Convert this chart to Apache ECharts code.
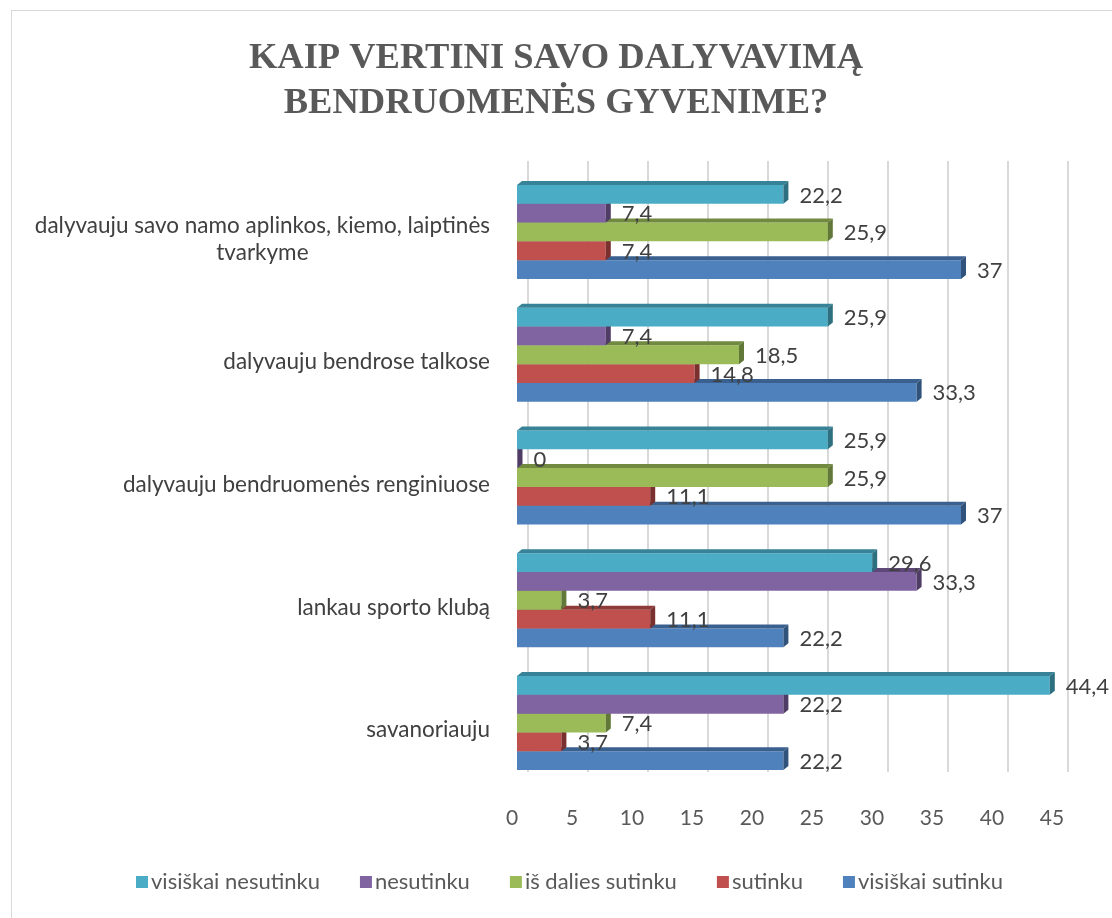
<!DOCTYPE html>
<html>
<head>
<meta charset="utf-8">
<script src="https://cdn.jsdelivr.net/npm/echarts@6/dist/echarts.min.js"></script>
<style>
  html, body { margin: 0; padding: 0; background: #fff; }
  #frame { position: absolute; left: 11px; top: 10px; width: 1120px; height: 930px; border: 1.5px solid #d9d9d9; box-sizing: border-box; }
  #chart { position: absolute; left: 0; top: 0; width: 1112px; height: 918px; }
</style>
</head>
<body>
<div id="frame"></div>
<div id="chart"></div>
<script>
// kategorijos (nuo apačios į viršų)
const categories = [
  'savanoriauju',
  'lankau sporto klubą',
  'dalyvauju bendruomenės renginiuose',
  'dalyvauju bendrose talkose',
  'dalyvauju savo namo aplinkos, kiemo, laiptinės\ntvarkyme',
]
const xTicks = [0, 5, 10, 15, 20, 25, 30, 35, 40, 45]

const visiskaiSutinku = [22.2, 22.2, 37, 33.3, 37]
const sutinku = [3.7, 11.1, 11.1, 14.8, 7.4]
const isDaliesSutinku = [7.4, 3.7, 25.9, 18.5, 25.9]
const nesutinku = [22.2, 33.3, 0, 7.4, 7.4]
const visiskaiNesutinku = [44.4, 29.6, 25.9, 25.9, 22.2]

// piešimo tvarka: apatinis stulpelis pirmas
const seriesDefs = [
  { name: 'visiškai sutinku', data: visiskaiSutinku, front: '#4f81bd', top: '#3a6090', side: '#31527a' },
  { name: 'sutinku', data: sutinku, front: '#c0504d', top: '#8e3a38', side: '#7a302e' },
  { name: 'iš dalies sutinku', data: isDaliesSutinku, front: '#9bbb59', top: '#728a40', side: '#627838' },
  { name: 'nesutinku', data: nesutinku, front: '#8064a2', top: '#5e4878', side: '#4f3d66' },
  { name: 'visiškai nesutinku', data: visiskaiNesutinku, front: '#4bacc6', top: '#378296', side: '#2e6f80' },
]

const FONT = 'Lato, "Noto Sans", sans-serif'
const DX = 5
const DY = 4

function makeRender(k, def) {
  return function (params, api) {
    const cat = api.value(1)
    const val = api.value(0)
    const p0 = api.coord([0, cat])
    const p1 = api.coord([val, cat])
    const band = api.size([0, 1])[1]
    const groupH = band * 0.765
    const h = groupH / 5
    const yBot = p0[1] + groupH / 2 - k * h
    const yTop = yBot - h
    const x0 = p0[0]
    const x1 = Math.max(p1[0], x0 + 0.5)
    const z2 = k * 3
    return {
      type: 'group',
      children: [
        { type: 'rect', z2: z2, shape: { x: x0, y: yTop, width: x1 - x0, height: h }, style: { fill: def.front } },
        { type: 'polygon', z2: z2 + 1, shape: { points: [[x0, yTop], [x0 + DX, yTop - DY], [x1 + DX, yTop - DY], [x1, yTop]] }, style: { fill: def.top } },
        { type: 'polygon', z2: z2 + 1, shape: { points: [[x1, yTop], [x1 + DX, yTop - DY], [x1 + DX, yBot - DY], [x1, yBot]] }, style: { fill: def.side } },
        {
          type: 'text', z2: 100,
          style: {
            text: String(val).replace('.', ','),
            x: x1 + 16, y: (yTop + yBot) / 2 + 1,
            verticalAlign: 'middle', align: 'left',
            fill: '#404040', font: '22px ' + FONT,
          },
        },
      ],
    }
  }
}

const chart = echarts.init(document.getElementById('chart'))

chart.setOption({
  animation: false,
  title: {
    text: 'KAIP VERTINI SAVO DALYVAVIMĄ\nBENDRUOMENĖS GYVENIME?',
    left: 'center',
    top: 31,
    padding: [5, 0, 5, 10],
    textStyle: {
      fontFamily: '"Liberation Serif", "Times New Roman", serif',
      fontWeight: 'bold',
      fontSize: 36.5,
      lineHeight: 45,
      color: '#595959',
    },
  },
  legend: {
    data: ['visiškai nesutinku', 'nesutinku', 'iš dalies sutinku', 'sutinku', 'visiškai sutinku'],
    bottom: 20,
    left: 131,
    icon: 'rect',
    itemWidth: 12,
    itemHeight: 12,
    itemGap: 40,
    textStyle: { fontFamily: FONT, fontSize: 22, color: '#595959', padding: [0, 0, 0, -2] },
  },
  grid: [
    { left: 517, right: 55, top: 170.6, bottom: 133.6 },
    { left: 528, right: 44, top: 161, bottom: 146 },
  ],
  xAxis: [
    {
      gridIndex: 0, type: 'value', min: 0, max: 45, interval: 5,
      axisLine: { show: false }, axisTick: { show: false }, splitLine: { show: false },
      axisLabel: {
        margin: 23, color: '#595959', fontFamily: FONT, fontSize: 21, padding: [0, 10, 0, 0],
        customValues: xTicks,
      },
    },
    {
      gridIndex: 1, type: 'value', min: 0, max: 45, interval: 5,
      axisLine: { show: false }, axisTick: { show: false }, axisLabel: { show: false },
      splitLine: { show: true, lineStyle: { color: '#d9d9d9', width: 2 } },
    },
  ],
  yAxis: [
    {
      gridIndex: 0, type: 'category', data: categories,
      axisLine: { show: false }, axisTick: { show: false },
      axisLabel: {
        margin: 27,
        padding: [14, 0, 0, 0],
        formatter: v => v.split('\n').map(s => '{c|' + s + '}').join('\n'),
        rich: { c: { align: 'center', fontFamily: FONT, fontSize: 22.5, lineHeight: 27, color: '#404040' } },
      },
    },
    {
      gridIndex: 1, type: 'category', data: categories, show: false,
    },
  ],
  series: seriesDefs.map((def, k) => ({
    type: 'custom',
    name: def.name,
    xAxisIndex: 0,
    yAxisIndex: 0,
    clip: false,
    itemStyle: { color: def.front },
    encode: { x: 0, y: 1 },
    data: def.data.map((v, i) => [v, i]),
    renderItem: makeRender(k, def),
  })),
})
</script>
</body>
</html>
